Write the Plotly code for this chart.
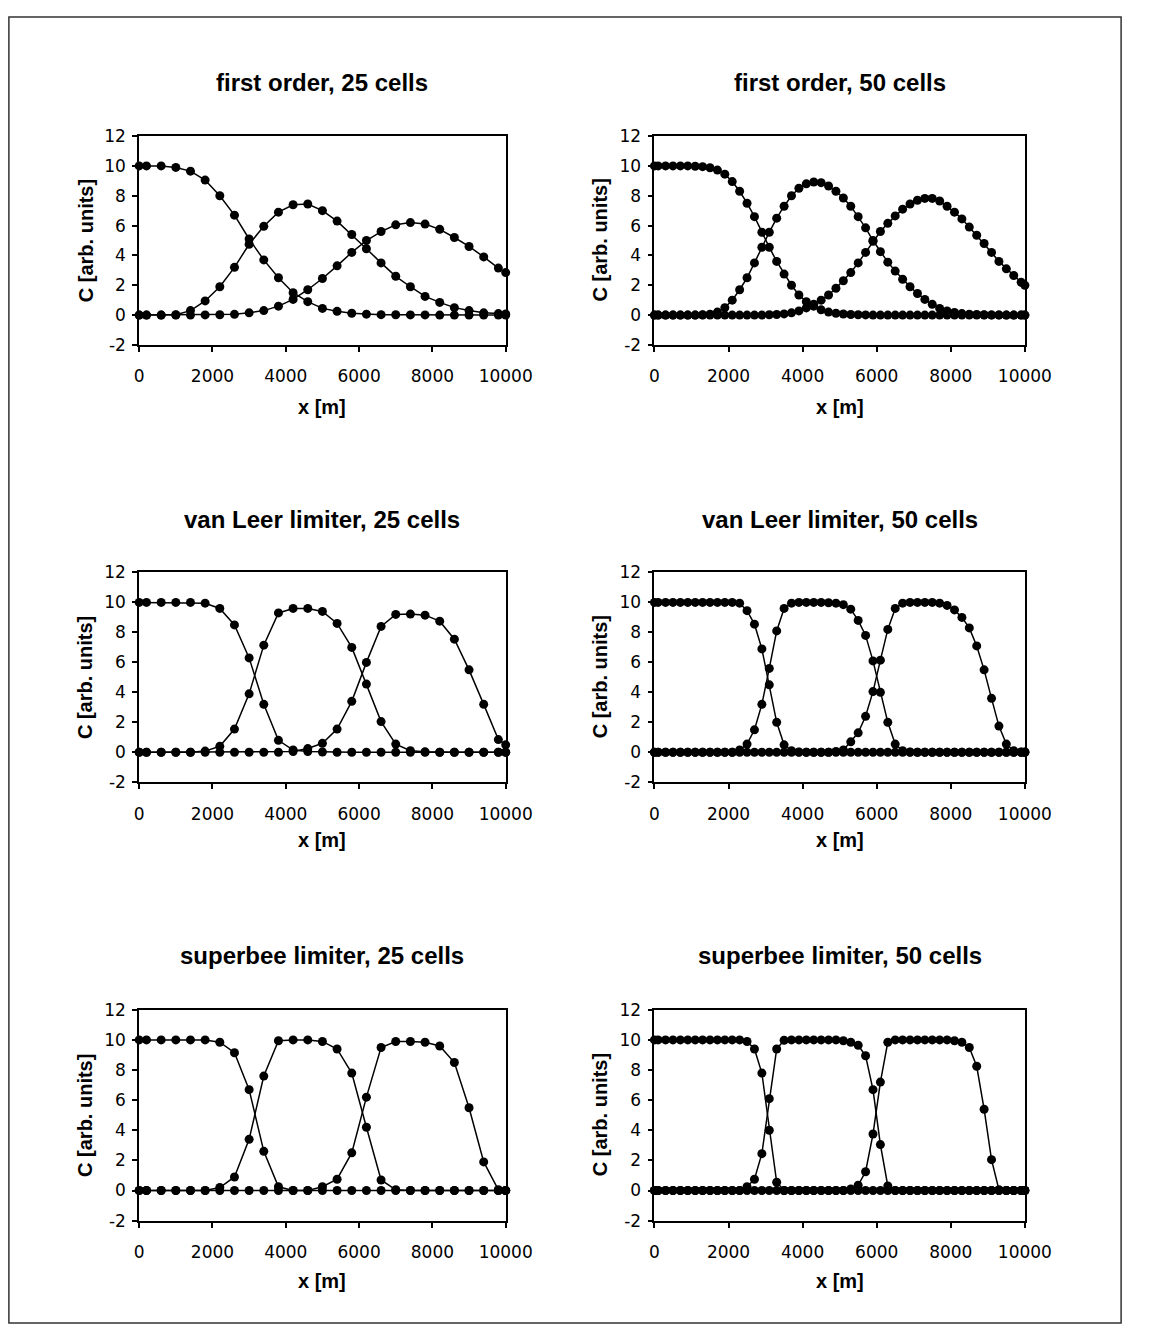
import plotly.graph_objects as go

# ---------------- data ----------------
X25 = [0, 200, 600, 1000, 1400, 1800, 2200, 2600, 3000, 3400, 3800, 4200, 4600, 5000,
       5400, 5800, 6200, 6600, 7000, 7400, 7800, 8200, 8600, 9000, 9400, 9800, 10000]
X50 = [0, 100, 300, 500, 700, 900, 1100, 1300, 1500, 1700, 1900, 2100, 2300, 2500, 2700,
       2900, 3100, 3300, 3500, 3700, 3900, 4100, 4300, 4500, 4700, 4900, 5100, 5300, 5500,
       5700, 5900, 6100, 6300, 6500, 6700, 6900, 7100, 7300, 7500, 7700, 7900, 8100, 8300,
       8500, 8700, 8900, 9100, 9300, 9500, 9700, 9900, 10000]

# first order, 25 cells
fo25_a = [10, 10, 10, 9.9, 9.65, 9.05, 8.0, 6.7, 5.1, 3.7, 2.5, 1.5, 0.9, 0.45, 0.25, 0.12,
          0.06, 0.03, 0.02, 0.01, 0.01, 0, 0, 0, 0, 0, 0]
fo25_b = [0, 0, 0, 0.02, 0.3, 0.95, 1.9, 3.2, 4.75, 5.95, 6.9, 7.4, 7.45, 7.0, 6.3, 5.4,
          4.45, 3.5, 2.6, 1.9, 1.25, 0.85, 0.5, 0.3, 0.15, 0.1, 0.08]
fo25_c = [0, 0, 0, 0, 0, 0.01, 0.02, 0.05, 0.15, 0.3, 0.6, 1.05, 1.7, 2.45, 3.3, 4.2, 5.0,
          5.6, 6.05, 6.2, 6.1, 5.75, 5.2, 4.6, 3.9, 3.15, 2.85]

# first order, 50 cells
fo50_a = [10, 10, 10, 10, 10, 10, 9.98, 9.95, 9.88, 9.72, 9.45, 8.95, 8.3, 7.5, 6.6, 5.55,
          4.55, 3.6, 2.75, 2.0, 1.35, 0.9, 0.6, 0.35, 0.2, 0.12, 0.07, 0.04, 0.02, 0.01,
          0, 0, 0, 0, 0, 0, 0, 0, 0, 0, 0, 0, 0, 0, 0, 0, 0, 0, 0, 0, 0, 0]
fo50_b = [0, 0, 0, 0, 0, 0, 0, 0.02, 0.06, 0.2, 0.5, 1.0, 1.7, 2.5, 3.5, 4.55, 5.55, 6.5,
          7.3, 8.0, 8.5, 8.8, 8.92, 8.88, 8.65, 8.3, 7.85, 7.3, 6.6, 5.85, 5.0, 4.25, 3.55,
          2.95, 2.4, 1.9, 1.45, 1.05, 0.72, 0.45, 0.28, 0.17, 0.1, 0.06, 0.04, 0.02, 0.01,
          0.01, 0, 0, 0, 0]
fo50_c = [0, 0, 0, 0, 0, 0, 0, 0, 0, 0, 0, 0, 0, 0, 0, 0, 0.02, 0.04, 0.08, 0.15, 0.28,
          0.48, 0.72, 1.0, 1.35, 1.8, 2.3, 2.85, 3.5, 4.2, 4.95, 5.6, 6.15, 6.65, 7.1, 7.45,
          7.7, 7.82, 7.82, 7.65, 7.3, 6.9, 6.45, 5.9, 5.35, 4.8, 4.2, 3.6, 3.1, 2.65, 2.2, 2.0]

# van Leer limiter, 25 cells
vl25_a = [10, 10, 10, 10, 10, 9.95, 9.6, 8.5, 6.3, 3.2, 0.8, 0.15, 0.05, 0.02, 0, 0, 0, 0,
          0, 0, 0, 0, 0, 0, 0, 0, 0]
vl25_b = [0, 0, 0, 0, 0, 0.08, 0.4, 1.55, 3.9, 7.15, 9.3, 9.6, 9.6, 9.4, 8.6, 7.0, 4.55,
          2.05, 0.55, 0.1, 0.03, 0, 0, 0, 0, 0, 0]
vl25_c = [0, 0, 0, 0, 0, 0, 0, 0, 0, 0, 0, 0.05, 0.25, 0.6, 1.55, 3.4, 6.0, 8.4, 9.2, 9.22,
          9.15, 8.75, 7.55, 5.5, 3.2, 0.85, 0.5]

# van Leer limiter, 50 cells
vl50_a = [10, 10, 10, 10, 10, 10, 10, 10, 10, 10, 10, 10, 9.95, 9.45, 8.55, 6.9, 4.5, 2.0,
          0.5, 0.1, 0.02, 0, 0, 0, 0, 0, 0, 0, 0, 0, 0, 0, 0, 0, 0, 0, 0, 0, 0, 0, 0, 0, 0,
          0, 0, 0, 0, 0, 0, 0, 0, 0]
vl50_b = [0, 0, 0, 0, 0, 0, 0, 0, 0, 0, 0, 0, 0.15, 0.55, 1.5, 3.2, 5.6, 8.1, 9.6, 9.95, 10,
          10, 10, 10, 9.98, 9.95, 9.85, 9.55, 8.8, 7.8, 6.1, 4.0, 2.0, 0.55, 0.1, 0.02, 0, 0,
          0, 0, 0, 0, 0, 0, 0, 0, 0, 0, 0, 0, 0, 0]
vl50_c = [0, 0, 0, 0, 0, 0, 0, 0, 0, 0, 0, 0, 0, 0, 0, 0, 0, 0, 0, 0, 0, 0, 0, 0, 0, 0.05,
          0.15, 0.7, 1.3, 2.4, 4.05, 6.15, 8.2, 9.6, 9.95, 10, 10, 10, 10, 9.95, 9.8, 9.5,
          9.0, 8.3, 7.1, 5.5, 3.6, 1.75, 0.55, 0.1, 0.02, 0.02]

# superbee limiter, 25 cells
sb25_a = [10, 10, 10, 10, 10, 10, 9.85, 9.15, 6.7, 2.6, 0.25, 0, 0, 0, 0, 0, 0, 0, 0, 0, 0,
          0, 0, 0, 0, 0, 0]
sb25_b = [0, 0, 0, 0, 0, 0, 0.2, 0.9, 3.4, 7.6, 9.95, 10, 10, 9.9, 9.4, 7.8, 4.2, 0.7,
          0.05, 0, 0, 0, 0, 0, 0, 0, 0]
sb25_c = [0, 0, 0, 0, 0, 0, 0, 0, 0, 0, 0, 0, 0, 0.25, 0.75, 2.5, 6.2, 9.5, 9.9, 9.9, 9.85,
          9.6, 8.5, 5.5, 1.9, 0.05, 0]

# superbee limiter, 50 cells
sb50_a = [10, 10, 10, 10, 10, 10, 10, 10, 10, 10, 10, 10, 10, 9.9, 9.4, 7.8, 4.0, 0.55, 0,
          0, 0, 0, 0, 0, 0, 0, 0, 0, 0, 0, 0, 0, 0, 0, 0, 0, 0, 0, 0, 0, 0, 0, 0, 0, 0, 0, 0,
          0, 0, 0, 0, 0]
sb50_b = [0, 0, 0, 0, 0, 0, 0, 0, 0, 0, 0, 0, 0, 0.25, 0.75, 2.45, 6.1, 9.4, 9.98, 10, 10,
          10, 10, 10, 10, 10, 9.95, 9.85, 9.65, 8.95, 6.7, 3.05, 0.3, 0, 0, 0, 0, 0, 0, 0, 0,
          0, 0, 0, 0, 0, 0, 0, 0, 0, 0, 0]
sb50_c = [0, 0, 0, 0, 0, 0, 0, 0, 0, 0, 0, 0, 0, 0, 0, 0, 0, 0, 0, 0, 0, 0, 0, 0, 0, 0, 0,
          0.1, 0.35, 1.25, 3.75, 7.2, 9.85, 10, 10, 10, 10, 10, 10, 10, 10, 9.95, 9.85, 9.5,
          8.25, 5.4, 2.05, 0.05, 0, 0, 0, 0]

TITLES = ["first order, 25 cells", "first order, 50 cells",
          "van Leer limiter, 25 cells", "van Leer limiter, 50 cells",
          "superbee limiter, 25 cells", "superbee limiter, 50 cells"]
XS = [X25, X50, X25, X50, X25, X50]
SERIES = [[fo25_a, fo25_b, fo25_c], [fo50_a, fo50_b, fo50_c],
          [vl25_a, vl25_b, vl25_c], [vl50_a, vl50_b, vl50_c],
          [sb25_a, sb25_b, sb25_c], [sb50_a, sb50_b, sb50_c]]
X_TICKS = [0, 2000, 4000, 6000, 8000, 10000]
Y_TICKS = [-2, 0, 2, 4, 6, 8, 10, 12]
X_LABEL = "x [m]"
Y_LABEL = "C [arb. units]"

# ---------------- layout (page pixels, body margin removed) ----------------
W, H = 1152, 1338
COLS = [(138, 515), (668, 1049)]
ROWS = [(128, 340), (571, 784), (1015, 1229)]
TITLE_Y = [74, 517, 960]
XTITLE_Y = [403, 843, 1290]
YTITLE_X = [83, 612]

TICK_FONT = dict(family="DejaVu Sans", size=17, color="black")
BOLD_FONT = dict(family="Liberation Sans", size=20, color="black")

fig = go.Figure()
annotations = []
layout = {}

for i in range(6):
    r, c = divmod(i, 2)
    n = i + 1
    xa = "xaxis" if n == 1 else f"xaxis{n}"
    ya = "yaxis" if n == 1 else f"yaxis{n}"
    xr = "x" if n == 1 else f"x{n}"
    yr = "y" if n == 1 else f"y{n}"
    l, rt = COLS[c]
    t, b = ROWS[r]
    axis_common = dict(showline=True, linecolor="black", linewidth=1.8, mirror=True,
                       ticks="outside", ticklen=5, tickwidth=1.5, tickcolor="black",
                       showgrid=False, zeroline=False, tickfont=TICK_FONT, fixedrange=True)
    layout[xa] = dict(domain=[l / W, rt / W], anchor=yr, range=[0, 10000],
                      tickvals=X_TICKS, ticktext=[str(v) for v in X_TICKS],
                      ticklabelstandoff=10, **axis_common)
    layout[ya] = dict(domain=[1 - b / H, 1 - t / H], anchor=xr, range=[-2, 12],
                      tickvals=Y_TICKS, ticktext=[str(v) for v in Y_TICKS],
                      ticklabelstandoff=3, **axis_common)
    for ser in SERIES[i]:
        fig.add_trace(go.Scatter(x=XS[i], y=ser, xaxis=xr, yaxis=yr, mode="lines+markers",
                                 line=dict(color="black", width=1.5),
                                 marker=dict(color="black", size=9),
                                 cliponaxis=False, showlegend=False, hoverinfo="skip"))
    annotations.append(dict(text=f"<b>{TITLES[i]}</b>", x=(l + rt) / 2 / W,
                            y=1 - TITLE_Y[r] / H, xref="paper", yref="paper",
                            xanchor="center", yanchor="middle", showarrow=False,
                            font=dict(family="Liberation Sans", size=24, color="black")))
    annotations.append(dict(text=f"<b>{X_LABEL}</b>", x=(l + rt) / 2 / W,
                            y=1 - XTITLE_Y[r] / H, xref="paper", yref="paper",
                            xanchor="center", yanchor="middle", showarrow=False,
                            font=BOLD_FONT))
    annotations.append(dict(text=f"<b>{Y_LABEL}</b>", x=YTITLE_X[c] / W,
                            y=1 - (t + b) / 2 / H, xref="paper", yref="paper",
                            xanchor="center", yanchor="middle", showarrow=False,
                            textangle=-90, font=BOLD_FONT))

fig.update_layout(**layout)
fig.update_layout(
    width=W, height=H, margin=dict(l=0, r=0, t=0, b=0),
    paper_bgcolor="white", plot_bgcolor="white",
    annotations=annotations,
    shapes=[dict(type="rect", xref="paper", yref="paper",
                 x0=4 / W, x1=1148 / W, y0=1 - 1333 / H, y1=1 - 7 / H,
                 line=dict(color="#333333", width=1.5))],
)

fig.write_html("out.html", config={"displayModeBar": False},
               post_script="document.body.style.margin='0';")
